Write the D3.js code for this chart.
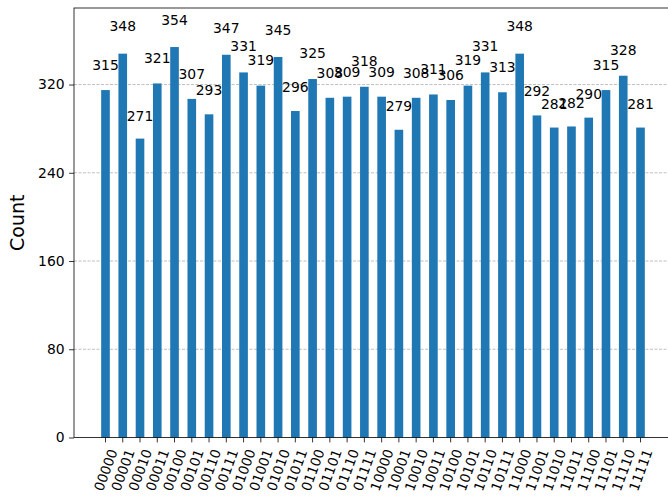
<!DOCTYPE html>
<html><head><meta charset="utf-8">
<script src="https://cdn.jsdelivr.net/npm/d3@7"></script>
<style>body{margin:0;background:#fff}svg{display:block}text{font-family:"DejaVu Sans",sans-serif;fill:#000}</style>
</head><body><svg id="c" width="668" height="500"></svg>
<script>
const categories = ["00000","00001","00010","00011","00100","00101","00110","00111","01000","01001","01010","01011","01100","01101","01110","01111","10000","10001","10010","10011","10100","10101","10110","10111","11000","11001","11010","11011","11100","11101","11110","11111"];
const counts = [315,348,271,321,354,307,293,347,331,319,345,296,325,308,309,318,309,279,308,311,306,319,331,313,348,292,281,282,290,315,328,281];
const yTicks = [0,80,160,240,320];
const yLabel = "Count";

const svg = d3.select("#c");
const L = 74, R = 672, T = 8, B = 437.5;
const n = categories.length, bw = 0.5;
const x = d3.scaleLinear().domain([-0.25 - 0.05*(n-0.5), n-0.75 + 0.05*(n-0.5)]).range([L, R]);
const y = d3.scaleLinear().domain([0, d3.max(counts)*1.1]).range([B, T]);

// grid
svg.append("g").selectAll("line").data(yTicks.filter(d=>d>0)).join("line")
  .attr("x1", L).attr("x2", R).attr("y1", d=>y(d)).attr("y2", d=>y(d))
  .attr("stroke", "#b0b0b0").attr("stroke-width", 0.8).attr("stroke-dasharray", "3,1.5");

// bars
svg.append("g").selectAll("rect").data(counts).join("rect")
  .attr("x", (d,i)=>x(i - bw/2)).attr("width", (d,i)=>x(i+bw/2)-x(i-bw/2))
  .attr("y", d=>y(d)).attr("height", d=>B - y(d)).attr("fill", "#1f77b4");

// value labels
svg.append("g").selectAll("text").data(counts).join("text")
  .attr("x", (d,i)=>x(i)).attr("y", d=>y(d*1.05) - 3)
  .attr("text-anchor", "middle").attr("font-size", 13.9).text(d=>d);

// y axis
const yAxis = d3.axisLeft(y).tickValues(yTicks).tickSize(4.9).tickPadding(4.5);
const gy = svg.append("g").attr("transform", `translate(${L},0)`).call(yAxis);
gy.select(".domain").remove();
gy.selectAll("text").attr("font-size", 13.9).attr("font-family", "DejaVu Sans").attr("fill","#000");
gy.selectAll("line").attr("stroke", "#000").attr("stroke-width", 0.8);

// x axis ticks
const gx = svg.append("g");
gx.selectAll("line").data(categories).join("line")
  .attr("x1", (d,i)=>x(i)).attr("x2", (d,i)=>x(i)).attr("y1", B).attr("y2", B+4.9)
  .attr("stroke", "#000").attr("stroke-width", 0.8);
const fs = 13.6, a = 70*Math.PI/180;
gx.selectAll("text").data(categories).join("text")
  .attr("font-size", fs).attr("text-anchor", "middle").attr("dominant-baseline", "central")
  .text(d=>d)
  .each(function(d,i){
    const len = this.getComputedTextLength();
    const h = fs*0.75;
    const H = len*Math.sin(a) + h*Math.cos(a);
    const cx = x(i), cy = B + 4.9 + 5.5 + H/2;
    d3.select(this).attr("transform", `translate(${cx},${cy}) rotate(-70)`);
  });

// spines
svg.append("rect").attr("x", L).attr("y", T).attr("width", R-L).attr("height", B-T)
  .attr("fill", "none").attr("stroke", "#000").attr("stroke-width", 0.8);

// y label
svg.append("text").attr("transform", `translate(17,${(T+B)/2}) rotate(-90)`)
  .attr("text-anchor", "middle").attr("dominant-baseline", "central").attr("font-size", 19).text(yLabel);
</script></body></html>
